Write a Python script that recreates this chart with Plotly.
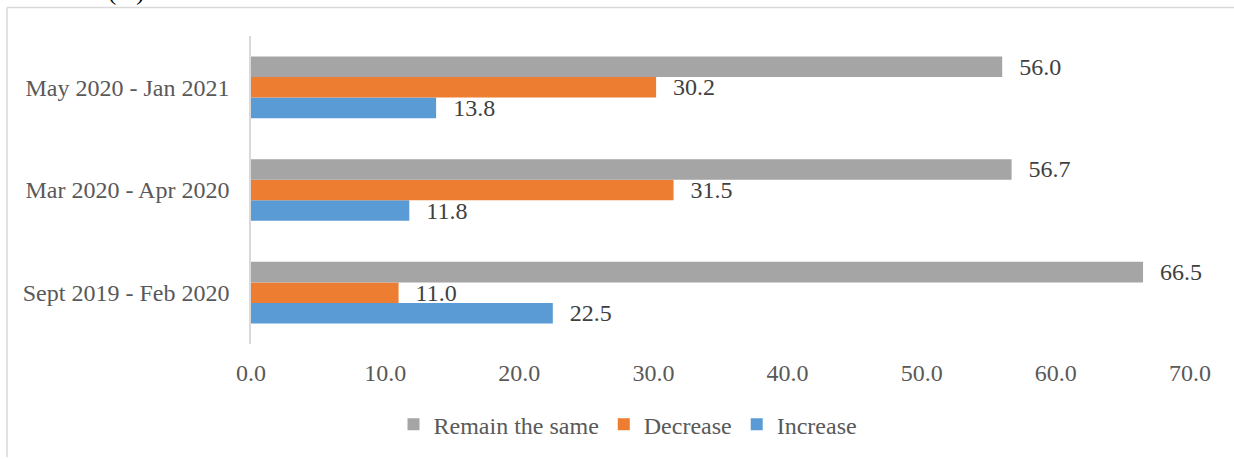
import plotly.graph_objects as go

periods = ["Sept 2019 - Feb 2020", "Mar 2020 - Apr 2020", "May 2020 - Jan 2021"]
increase = [22.5, 11.8, 13.8]
decrease = [11.0, 31.5, 30.2]
remain_same = [66.5, 56.7, 56.0]
x_ticks = [0, 10, 20, 30, 40, 50, 60, 70]

FONT = "Liberation Serif, Times New Roman, serif"
FS = 24
W, H = 1234, 459
L, R, T, B = 251, 44, 36, 110

series = [
    ("Increase", increase, "#5B9BD5"),
    ("Decrease", decrease, "#ED7D31"),
    ("Remain the same", remain_same, "#A5A5A5"),
]

fig = go.Figure()
for name, vals, color in series:
    fig.add_trace(go.Bar(
        name=name, y=periods, x=vals, orientation="h",
        marker=dict(color=color, line=dict(width=0)),
        texttemplate="\u00a0\u00a0\u200a%{x:.1f}", textposition="outside",
        constraintext="none",
        textfont=dict(family=FONT, size=FS, color="#404040"),
        cliponaxis=False,
    ))

def px_x(p):
    return (p - L) / (W - L - R)

def px_y(p):
    return (H - B - p) / (H - T - B)

# outer chart frame (left and top edges)
fig.add_shape(type="line", xref="paper", yref="paper",
              x0=px_x(7), x1=px_x(W + 5), y0=px_y(7), y1=px_y(7),
              line=dict(color="#D9D9D9", width=1.5))
fig.add_shape(type="line", xref="paper", yref="paper",
              x0=px_x(7), x1=px_x(7), y0=px_y(7), y1=px_y(H + 5),
              line=dict(color="#D9D9D9", width=1.5))

fig.add_annotation(text="sector (%)", xref="paper", yref="paper",
                   x=px_x(146), y=px_y(7), xanchor="right", yanchor="bottom",
                   showarrow=False, font=dict(family=FONT, size=FS, color="#000000"))

fig.update_layout(
    width=W, height=H,
    margin=dict(l=L, r=R, t=T, b=B, pad=0),
    paper_bgcolor="white", plot_bgcolor="white",
    barmode="group", bargap=0.4, bargroupgap=0,
    font=dict(family=FONT, size=FS, color="#595959"),
    showlegend=True,
    legend=dict(orientation="h", traceorder="reversed",
                x=px_x(628), xanchor="center", y=px_y(431), yanchor="middle",
                font=dict(family=FONT, size=FS, color="#595959"),
                itemwidth=30, itemsizing="constant"),
    xaxis=dict(range=[0, 70], tickvals=x_ticks,
               ticktext=[f"{v:.1f}" for v in x_ticks],
               showgrid=False, zeroline=False, showline=False,
               ticks="", ticklabelstandoff=12,
               tickfont=dict(family=FONT, size=FS, color="#595959")),
    yaxis=dict(showgrid=False, zeroline=False, showline=True,
               linecolor="#D9D9D9", linewidth=1.5,
               ticks="", ticklabelstandoff=15,
               tickfont=dict(family=FONT, size=FS, color="#595959")),
)

fig.write_html("out.html")
